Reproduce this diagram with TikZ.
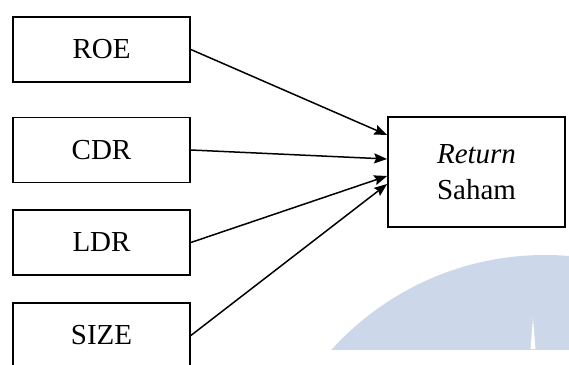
\documentclass[tikz,border=0pt]{standalone}
\usepackage{fontspec}
\setmainfont{Liberation Serif}
\usepackage{xcolor}
\usepackage{tikz}
\usetikzlibrary{arrows.meta}

\definecolor{wmblue}{RGB}{204,216,233}

\begin{document}
\begin{tikzpicture}[x=1pt, y=1pt,
						varbox/.style={draw, line width=1.7pt, minimum width=177pt, minimum height=65pt, inner sep=0pt, font=\fontsize{29}{36}\selectfont},
						link/.style={line width=1.5pt, -{Stealth[length=13pt, width=10pt, inset=2pt]}}]
						\useasboundingbox (0,0) rectangle (569,364);
						% watermark
						\begin{scope}
							\clip (0,15) rectangle (569,364);
							\fill[wmblue] (545,-179) circle (288);
						\end{scope}
						\fill[white] (530.5,15) -- (533,46) -- (535.5,15) -- cycle;
						% variables
						\node[varbox] (roe)  at (101.5,314.5) {ROE};
						\node[varbox] (cdr)  at (101.5,214)   {CDR};
						\node[varbox] (ldr)  at (101.5,121.5) {LDR};
						\node[varbox] (size) at (101.5,28.5)  {SIZE};
						\node[varbox, minimum height=110pt, align=center] (ret) at (476.5,192) {\textit{Return}\\Saham};
						% arrows
						\draw[link] (roe.east)  -- ([yshift=37pt]ret.west);
						\draw[link] (cdr.east)  -- ([yshift=13pt]ret.west);
						\draw[link] (ldr.east)  -- ([yshift=-4pt]ret.west);
						\draw[link] (size.east) -- ([yshift=-12pt]ret.west);
					\end{tikzpicture}
\end{document}
